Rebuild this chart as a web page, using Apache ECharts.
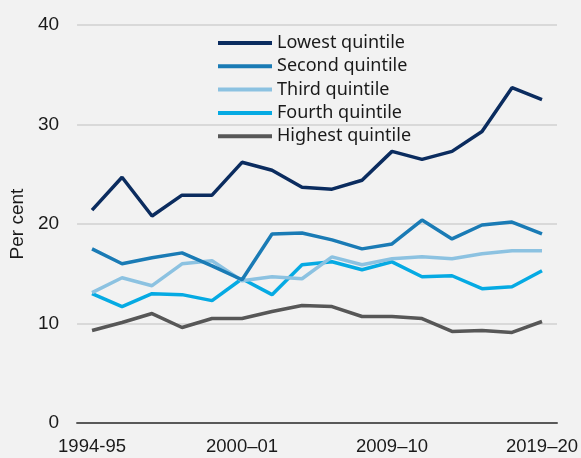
<!DOCTYPE html>
<html><head><meta charset="utf-8">
<script src="https://cdn.jsdelivr.net/npm/echarts@6/dist/echarts.min.js"></script>
<style>html,body{margin:0;padding:0;background:#f2f2f2;}#c{width:581px;height:458px;}</style>
</head><body><div id="c"></div>
<script>
const categories = ['1994-95','1995–96','1996–97','1997–98','1999–00','2000–01','2002–03','2003–04','2005–06','2007–08','2009–10','2011–12','2013–14','2015–16','2017–18','2019–20'];
const shownLabels = ['1994-95','2000–01','2009–10','2019–20'];
const lowest  = [21.4,24.7,20.8,22.9,22.9,26.2,25.4,23.7,23.5,24.4,27.3,26.5,27.3,29.3,33.7,32.5];
const second  = [17.5,16.0,16.6,17.1,15.8,14.4,19.0,19.1,18.4,17.5,18.0,20.4,18.5,19.9,20.2,19.0];
const third   = [13.1,14.6,13.8,16.0,16.3,14.3,14.7,14.5,16.7,15.9,16.5,16.7,16.5,17.0,17.3,17.3];
const fourth  = [13.0,11.7,13.0,12.9,12.3,14.5,12.9,15.9,16.2,15.4,16.2,14.7,14.8,13.5,13.7,15.3];
const highest = [9.3,10.1,11.0,9.6,10.5,10.5,11.2,11.8,11.7,10.7,10.7,10.5,9.2,9.3,9.1,10.2];
const seriesNames = ['Lowest quintile','Second quintile','Third quintile','Fourth quintile','Highest quintile'];
const seriesData = [lowest, second, third, fourth, highest];
const colors = ['#0b2c5f','#1a7bb5','#8cc2e1','#05aae3','#575757'];
const yTicks = [0,10,20,30,40];

const chart = echarts.init(document.getElementById('c'));
chart.setOption({
  backgroundColor:'#f2f2f2',
  animation:false,
  grid:{left:76,right:24,top:25,bottom:35,containLabel:false},
  legend:{
    orient:'vertical', left:213, top:29, itemWidth:54, itemHeight:4, itemGap:5.3,
    icon:'rect',
    textStyle:{fontFamily:'Noto Sans',fontSize:18,color:'#1a1a1a',lineHeight:18},
    data:seriesNames
  },
  xAxis:{
    type:'category', data:categories, boundaryGap:true,
    axisLine:{lineStyle:{color:'#595959',width:2}},
    axisTick:{inside:true,length:5,lineStyle:{color:'#595959',width:2}},
    axisLabel:{
      interval:0, margin:14,
      formatter:(v)=> shownLabels.includes(v)?v:'',
      fontFamily:'Liberation Sans',fontSize:18.5,color:'#1a1a1a'
    }
  },
  yAxis:{
    type:'value', min:yTicks[0], max:yTicks[yTicks.length-1], interval:10,
    name:'Per cent', nameLocation:'middle', nameGap:46, nameRotate:90,
    nameTextStyle:{fontFamily:'Liberation Sans',fontSize:19,color:'#1a1a1a'},
    axisLine:{show:false}, axisTick:{show:false},
    axisLabel:{fontFamily:'Liberation Sans',fontSize:19,color:'#1a1a1a',margin:18},
    splitLine:{lineStyle:{color:'#d9d9d9',width:2}}
  },
  series: seriesNames.map((n,i)=>({
    name:n, type:'line', data:seriesData[i], symbol:'none',
    lineStyle:{color:colors[i],width:3.5}, itemStyle:{color:colors[i]}, z:10-i
  }))
});
</script></body></html>
